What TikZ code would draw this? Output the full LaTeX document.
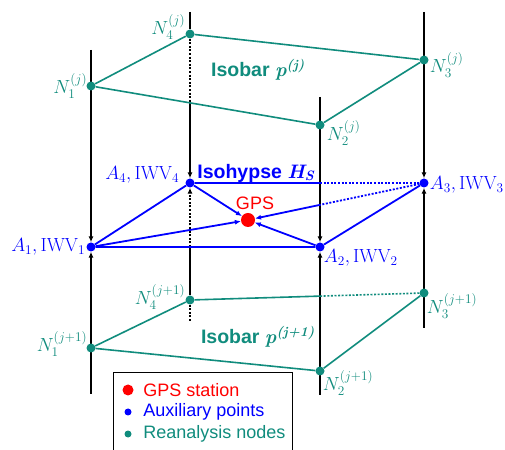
\RequirePackage{fix-cm}
\documentclass[tikz,border=0pt]{standalone}
\usepackage{amsmath,amssymb}
\usepackage{fontspec}
\setsansfont{Liberation Sans}
\usetikzlibrary{positioning, calc, arrows.meta, backgrounds}

\definecolor{isoteal}{RGB}{16,140,125}
\definecolor{auxblue}{RGB}{0,0,255}
\definecolor{gpsred}{RGB}{255,0,0}

\newcommand{\bfvar}[1]{{\rmfamily\bfseries\itshape #1}}

\begin{document}
\begin{tikzpicture}[x=1pt, y=1pt, >={Latex[length=6pt,width=5pt]},
  nodept/.style={circle, fill=isoteal, inner sep=0pt, minimum size=9pt},
  auxpt/.style={circle, fill=auxblue, inner sep=0pt, minimum size=9pt},
  gpspt/.style={circle, fill=gpsred, inner sep=0pt, minimum size=14pt},
  vline/.style={draw=black, line width=1.3pt},
  isoline/.style={draw=isoteal, line width=1.6pt},
  hypline/.style={draw=auxblue, line width=1.8pt},
  hidden/.style={dash pattern=on 2pt off 1.6pt},
  nlbl/.style={text=isoteal, inner sep=0pt, font=\fontsize{19}{21}\selectfont},
  albl/.style={text=auxblue, inner sep=0pt, font=\fontsize{19}{21}\selectfont},
  sflbl/.style={inner sep=0pt, font=\fontsize{18}{20}\selectfont\sffamily},
  titlbl/.style={inner sep=0pt, font=\fontsize{19.5}{21}\selectfont\sffamily\bfseries}]

  \useasboundingbox (0,0) rectangle (505,449);

  % --- Reanalysis nodes, upper isobar ---
  \node[nodept] (N1j) at (91,363) {};
  \node[nodept] (N4j) at (190,415) {};
  \node[nodept] (N3j) at (424,389) {};
  \node[nodept] (N2j) at (320,324) {};

  % --- Auxiliary points and GPS station ---
  \node[auxpt] (A1) at (91,202) {};
  \node[auxpt] (A4) at (190,266) {};
  \node[auxpt] (A3) at (424,266) {};
  \node[auxpt] (A2) at (320,202) {};
  \node[gpspt] (gps) at (248,229) {};

  % --- Reanalysis nodes, lower isobar ---
  \node[nodept] (N1k) at (91,101) {};
  \node[nodept] (N4k) at (190,149) {};
  \node[nodept] (N3k) at (424,156) {};
  \node[nodept] (N2k) at (320,78) {};

  % ends of the vertical lines
  \coordinate (T1) at (91,399);  \coordinate (B1) at (91,55);
  \coordinate (T2) at (320,352); \coordinate (B2) at (320,54);
  \coordinate (T3) at (424,437); \coordinate (B3) at (424,121);
  \coordinate (T4) at (190,437); \coordinate (B4) at (190,127);

  % where the hidden (dotted) parts start
  \coordinate (m1) at ($(N1j)!0.432!(N2j)$);
  \coordinate (c1) at (N4j |- m1);
  \coordinate (c2) at (A4 |- A1);
  \coordinate (c3) at (A2 |- A4);
  \coordinate (c4) at ($(A3)!0.591!(gps)$);
  \coordinate (c5) at ($(N4k)!0.556!(N3k)$);

  % --- labels ---
  \node[nlbl, left=-1pt of N1j] (lN1j) {$N_1^{(j)}$};
  \node[nlbl, left=0pt of N4j, yshift=7pt] (lN4j) {$N_4^{(j)}$};
  \node[nlbl, right=1pt of N3j, yshift=-5pt] (lN3j) {$N_3^{(j)}$};
  \node[nlbl, right=2pt of N2j, yshift=-8pt] (lN2j) {$N_2^{(j)}$};
  \node[nlbl, left=-1pt of N1k, yshift=4pt] (lN1k) {$N_1^{(j+1)}$};
  \node[nlbl, left=0pt of N4k, yshift=3pt] (lN4k) {$N_4^{(j+1)}$};
  \node[nlbl, right=-2pt of N3k, yshift=-13pt] (lN3k) {$N_3^{(j+1)}$};
  \node[nlbl, right=-2pt of N2k, yshift=-12pt] (lN2k) {$N_2^{(j+1)}$};

  \node[albl, left=1pt of A1] (lA1) {$A_1, \mathrm{IWV}_1$};
  \node[albl, left=6pt of A4, yshift=8pt] (lA4) {$A_4, \mathrm{IWV}_4$};
  \node[albl, right=1pt of A3, yshift=-2pt] (lA3) {$A_3, \mathrm{IWV}_3$};
  \node[albl, right=-1pt of A2, yshift=-11pt] (lA2) {$A_2, \mathrm{IWV}_2$};

  \node[sflbl, text=gpsred, above=3pt of gps, xshift=7pt] (lgps) {GPS};
  \node[titlbl, text=auxblue, right=2.5pt of A4, yshift=10pt] (lhyp) {Isohypse \bfvar{H\textsubscript{S}}};
  \node[titlbl, text=isoteal] (lisoj) at (258,379) {Isobar \bfvar{p\textsuperscript{(j)}}};
  \node[titlbl, text=isoteal] (lisok) at (258,112) {Isobar \bfvar{p\textsuperscript{(j+1)}}};

  % --- legend ---
  \node[draw, line width=1.2pt, minimum width=179pt, minimum height=90pt, anchor=north west] (legend) at (113,77) {};
  \node[gpspt, minimum size=11pt] (kgps) at ([shift={(15,-18)}]legend.north west) {};
  \node[auxpt, minimum size=7pt] (kaux) at ([shift={(15,-40)}]legend.north west) {};
  \node[nodept, minimum size=7pt] (knode) at ([shift={(15,-62)}]legend.north west) {};
  \node[sflbl, text=gpsred, right=9.5pt of kgps] (tgps) {GPS station};
  \node[sflbl, text=auxblue, right=11.5pt of kaux] (taux) {Auxiliary points};
  \node[sflbl, text=isoteal, right=11.5pt of knode] (tnode) {Reanalysis nodes};

  \begin{scope}[on background layer]
    % vertical lines
    \draw[vline, ->] (T1) -- (A1);
    \draw[vline, ->] (B1) -- (A1);
    \draw[vline, ->] (T2) -- (A2);
    \draw[vline, ->] (B2) -- (A2);
    \draw[vline, ->] (T3) -- (A3);
    \draw[vline, ->] (B3) -- (A3);
    \draw[vline] (T4) -- (N4j);
    \draw[vline, hidden] (N4j) -- (c1);
    \draw[vline, ->] (c1) -- (A4);
    \draw[vline, hidden, ->] (c2) -- (A4);
    \draw[vline] (c2) -- (N4k);
    \draw[vline, hidden] (N4k) -- (B4);

    % upper isobar
    \draw[isoline] (N1j) -- (N4j) -- (N3j) -- (N2j) -- (N1j);

    % isohypse
    \draw[hypline] (A1) -- (A4) -- (c3);
    \draw[hypline, hidden] (c3) -- (A3);
    \draw[hypline] (A3) -- (A2) -- (A1);
    \draw[hypline, ->] (A1) -- (gps);
    \draw[hypline, ->] (A4) -- (gps);
    \draw[hypline, ->] (A2) -- (gps);
    \draw[hypline, hidden] (A3) -- (c4);
    \draw[hypline, ->] (c4) -- (gps);

    % lower isobar
    \draw[isoline] (N1k) -- (N4k) -- (c5);
    \draw[isoline, hidden] (c5) -- (N3k);
    \draw[isoline] (N3k) -- (N2k) -- (N1k);
  \end{scope}

\end{tikzpicture}
\end{document}
